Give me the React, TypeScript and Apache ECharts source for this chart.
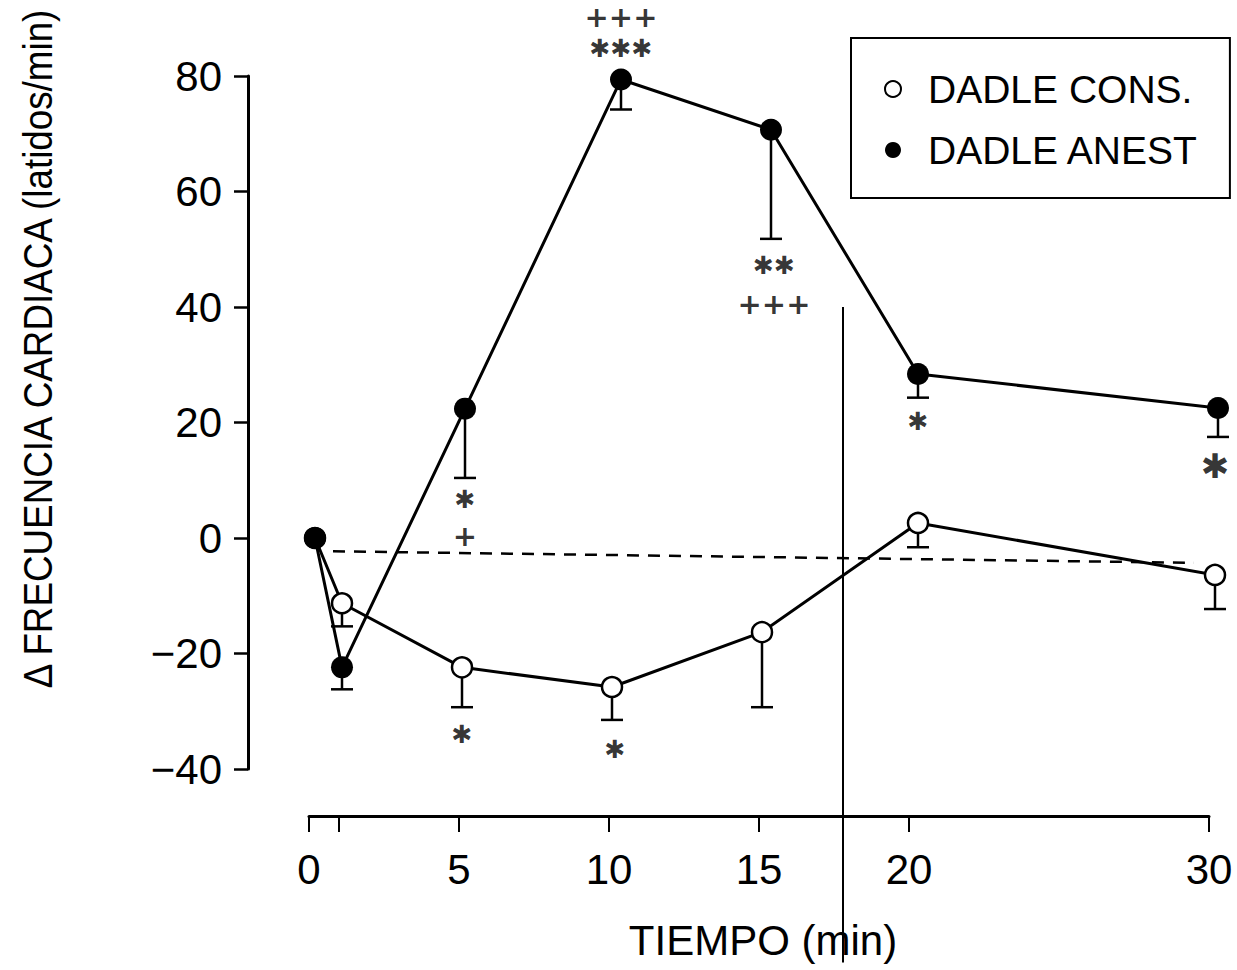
import React, { useEffect, useRef } from "react";
import * as echarts from "echarts";

// ---- data ----
const consX = [0.2, 1.1, 5.1, 10.1, 15.1, 20.3, 30.2];
const consY = [0, -11.3, -22.4, -25.8, -16.3, 2.6, -6.4];
const consErrLow = [null, -15.3, -29.3, -31.5, -29.3, -1.6, -12.3];

const anestX = [0.2, 1.1, 5.2, 10.4, 15.4, 20.3, 30.3];
const anestY = [0, -22.4, 22.4, 79.4, 70.7, 28.4, 22.5];
const anestErrLow = [null, -26.2, 10.4, 74.2, 51.8, 24.3, 17.5];

const baselineX = [0.8, 29.5];
const baselineY = [-2.3, -4.3];

const dividerX = [17.8, 17.8];
const dividerY = [40, -73.5];

// asterisk annotations
const starX = [10.4, 15.5, 5.2, 20.3, 5.1, 10.2];
const starY = [84.7, 47.1, 6.6, 20.1, -34.1, -36.7];
const starText = ["✱✱✱", "✱✱", "✱", "✱", "✱", "✱"];
// plus annotations
const plusX = [10.4, 15.5, 5.2];
const plusY = [90.3, 40.5, 0.4];
const plusText = ["+++", "+++", "+"];
// bold asterisk
const boldAnnX = [30.2];
const boldAnnY = [12.5];
const boldAnnText = ["✱"];

const xTickValues = [0, 1, 5, 10, 15, 20, 30];
const xLabelValues = [0, 5, 10, 15, 20, 30];

const seriesNames = ["DADLE CONS.", "DADLE ANEST"];
const yTitle = "Δ FRECUENCIA CARDIACA (latidos/min)";
const xTitle = "TIEMPO (min)";

const FONT = "'Liberation Sans', Arial, Helvetica, sans-serif";

function errRender(params: any, api: any) {
  const x = api.value(0);
  const y = api.value(1);
  const lo = api.value(2);
  if (lo === null || lo === undefined || isNaN(lo)) return null;
  const p1 = api.coord([x, y]);
  const p2 = api.coord([x, lo]);
  const st = { stroke: "#000", lineWidth: 2.5 };
  return {
    type: "group",
    children: [
      { type: "line", shape: { x1: p1[0], y1: p1[1], x2: p2[0], y2: p2[1] }, style: st },
      { type: "line", shape: { x1: p2[0] - 11, y1: p2[1], x2: p2[0] + 11, y2: p2[1] }, style: st },
    ],
  };
}

export default function App() {
  const ref = useRef<HTMLDivElement>(null);
  useEffect(() => {
    if (!ref.current) return;
    const chart = echarts.init(ref.current, null, { renderer: "svg" });
    const zip = (xs: number[], ys: any[]) => xs.map((x, i) => [x, ys[i]]);
    const annLabel = {
      show: true,
      position: "inside",
      formatter: (p: any) => p.value[2],
      fontSize: 25,
      fontWeight: "bold",
      fontFamily: "'DejaVu Sans', sans-serif",
      color: "#000",
      align: "center",
      verticalAlign: "middle",
    };
    const annSeries = (name: string, xs: number[], ys: number[], ts: string[], label: any) => ({
      name,
      type: "scatter",
      symbolSize: 0,
      clip: false,
      data: xs.map((x, i) => [x, ys[i], ts[i]]),
      label,
      z: 5,
      silent: true,
    });
    const option: any = {
      animation: false,
      backgroundColor: "#fff",
      textStyle: { fontFamily: FONT, color: "#000" },
      grid: { left: 309, right: 28, top: 76, bottom: 201, containLabel: false },
      xAxis: {
        type: "value",
        min: 0,
        max: 30,
        offset: 47,
        splitLine: { show: false },
        axisLine: { show: true, onZero: false, lineStyle: { color: "#000", width: 3 } },
        axisTick: { show: true, customValues: xTickValues, length: 16, lineStyle: { color: "#000", width: 2 } },
        axisLabel: {
          customValues: xLabelValues,
          fontSize: 42,
          color: "#000",
          fontFamily: FONT,
          margin: 32,
        },
      },
      yAxis: {
        type: "value",
        min: -40,
        max: 80,
        interval: 20,
        offset: 61,
        splitLine: { show: false },
        axisLine: { show: true, onZero: false, lineStyle: { color: "#000", width: 3 } },
        axisTick: { show: true, length: 14, lineStyle: { color: "#000", width: 2.5 } },
        axisLabel: {
          fontSize: 42,
          color: "#000",
          fontFamily: FONT,
          margin: 26,
          formatter: (v: number) => String(v).replace("-", "\u2212"),
        },
      },
      legend: {
        left: 851,
        top: 38,
        orient: "vertical",
        borderColor: "#000",
        borderWidth: 2,
        padding: [31, 31, 28, 33],
        itemGap: 21,
        itemWidth: 16,
        itemHeight: 16,
        textStyle: { fontSize: 39, fontFamily: FONT, color: "#000", lineHeight: 40, padding: [0, 0, 0, 22] },
        data: [
          { name: seriesNames[0], icon: "circle", itemStyle: { color: "#fff", borderColor: "#000", borderWidth: 2 } },
          { name: seriesNames[1], icon: "circle", itemStyle: { color: "#000", borderColor: "#000", borderWidth: 0 } },
        ],
      },
      graphic: [
        {
          type: "text",
          x: 38,
          y: 349,
          rotation: Math.PI / 2,
          scaleX: 0.92,
          style: {
            text: yTitle,
            fontSize: 40,
            fontFamily: FONT,
            fill: "#000",
            textAlign: "center",
            textVerticalAlign: "middle",
          },
        },
        {
          type: "text",
          x: 763,
          y: 940,
          style: {
            text: xTitle,
            fontSize: 42,
            fontFamily: FONT,
            fill: "#000",
            textAlign: "center",
            textVerticalAlign: "middle",
          },
        },
      ],
      series: [
        {
          name: "baseline",
          type: "line",
          data: zip(baselineX, baselineY),
          symbol: "none",
          lineStyle: { color: "#000", width: 2.5, type: [12, 9] },
          z: 1,
          silent: true,
        },
        {
          name: "divider",
          type: "line",
          data: zip(dividerX, dividerY),
          symbol: "none",
          clip: false,
          lineStyle: { color: "#000", width: 2 },
          z: 1,
          silent: true,
        },
        {
          name: "errCons",
          type: "custom",
          renderItem: errRender,
          clip: false,
          data: consX.map((x, i) => [x, consY[i], consErrLow[i]]),
          encode: { x: 0, y: [1, 2] },
          z: 2,
        },
        {
          name: "errAnest",
          type: "custom",
          renderItem: errRender,
          clip: false,
          data: anestX.map((x, i) => [x, anestY[i], anestErrLow[i]]),
          encode: { x: 0, y: [1, 2] },
          z: 2,
        },
        {
          name: seriesNames[0],
          type: "line",
          data: zip(consX, consY),
          clip: false,
          symbol: "circle",
          symbolSize: 20,
          showAllSymbol: true,
          lineStyle: { color: "#000", width: 3 },
          itemStyle: { color: "#fff", borderColor: "#000", borderWidth: 2.5 },
          z: 3,
        },
        {
          name: seriesNames[1],
          type: "line",
          data: zip(anestX, anestY),
          clip: false,
          symbol: "circle",
          symbolSize: 22,
          showAllSymbol: true,
          lineStyle: { color: "#000", width: 3 },
          itemStyle: { color: "#000", borderColor: "#000", borderWidth: 0 },
          z: 4,
        },
        annSeries("stars", starX, starY, starText, annLabel),
        annSeries("plus", plusX, plusY, plusText, { ...annLabel, fontSize: 29 }),
        annSeries("starBold", boldAnnX, boldAnnY, boldAnnText, { ...annLabel, fontSize: 34 }),
      ],
    };
    chart.setOption(option);
    return () => chart.dispose();
  }, []);
  return (
    <div
      ref={ref}
      style={{ position: "fixed", left: 0, top: 0, width: 1237, height: 970, background: "#fff" }}
    />
  );
}
